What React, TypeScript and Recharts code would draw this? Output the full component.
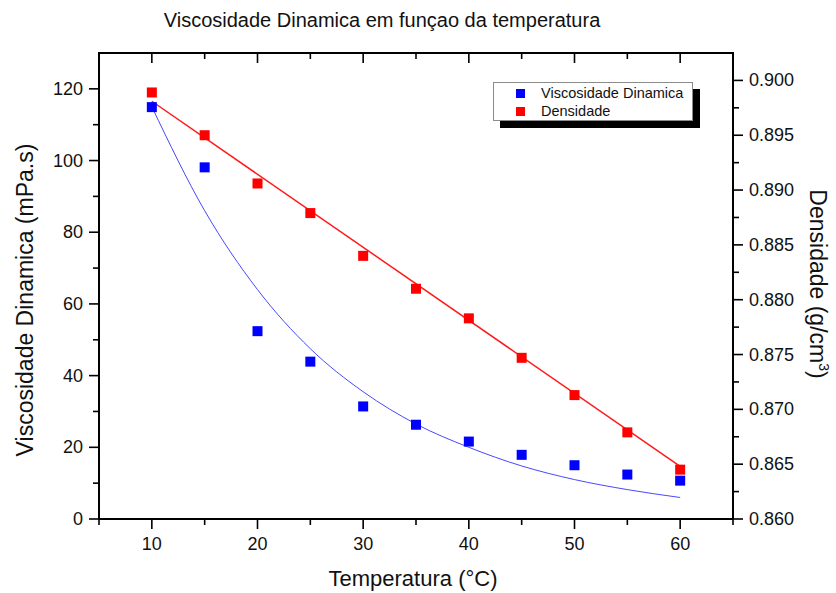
import React from "react";
import { ComposedChart, XAxis, YAxis, Scatter, Line, Legend, Label } from "recharts";

const FONT = '"Liberation Sans", Arial, sans-serif';

// measured points
const temperatures = [10, 15, 20, 25, 30, 35, 40, 45, 50, 55, 60];
const viscosity = [114.9, 98.1, 52.4, 43.9, 31.4, 26.3, 21.6, 17.9, 15.0, 12.4, 10.7];
const density = [0.8989, 0.895, 0.8906, 0.8879, 0.884, 0.881, 0.8783, 0.8747, 0.8713, 0.8679, 0.8645];

// fitted curves
const viscosityFitT = [10, 15, 20, 25, 30, 35, 40, 45, 50, 55, 60];
const viscosityFit = [115, 86, 64, 47.5, 35.5, 26.5, 20, 14.8, 11, 8.2, 6];
const densityFitT = [10, 60];
const densityFit = [0.8981, 0.8648];

// ticks (all) and the ones that carry a label
const xTicks = [5, 10, 15, 20, 25, 30, 35, 40, 45, 50, 55, 60, 65];
const xLabels = [10, 20, 30, 40, 50, 60];
const leftTicks = [0, 10, 20, 30, 40, 50, 60, 70, 80, 90, 100, 110, 120];
const leftLabels = [0, 20, 40, 60, 80, 100, 120];
const rightTicks = [
  0.86, 0.8625, 0.865, 0.8675, 0.87, 0.8725, 0.875, 0.8775, 0.88, 0.8825, 0.885,
  0.8875, 0.89, 0.8925, 0.895, 0.8975, 0.9,
];
const rightLabels = [0.86, 0.865, 0.87, 0.875, 0.88, 0.885, 0.89, 0.895, 0.9];
const X_DOMAIN: [number, number] = [5, 65];

const viscPoints = temperatures.map((t, i) => ({ t, v: viscosity[i] }));
const densPoints = temperatures.map((t, i) => ({ t, d: density[i] }));
const viscFitPoints = viscosityFitT.map((t, i) => ({ t, v: viscosityFit[i] }));
const densFitPoints = densityFitT.map((t, i) => ({ t, d: densityFit[i] }));

// chart geometry
const W = 836;
const H = 593;
const margin = { top: 53, right: 13, bottom: 14, left: 0 };
const X_AXIS_H = 60;
const LEFT_W = 99;
const RIGHT_W = 90;
const PLOT_LEFT = margin.left + LEFT_W;
const PLOT_W = W - margin.left - margin.right - LEFT_W - RIGHT_W;

type Side = "left" | "right" | "bottom";

function makeTick(side: Side, labels: number[], fmt: (v: number) => string) {
  return (props: any) => {
    const { x, y, payload } = props;
    const v = payload.value;
    const major = labels.some((l) => Math.abs(l - v) < 1e-9);
    const len = major ? 10 : 6;
    let line;
    let label = null;
    if (side === "left") {
      line = <line x1={x - len} y1={y} x2={x} y2={y} />;
      if (major)
        label = (
          <text x={x - 16} y={y + 6} textAnchor="end">
            {fmt(v)}
          </text>
        );
    } else if (side === "right") {
      line = <line x1={x} y1={y} x2={x + len} y2={y} />;
      if (major)
        label = (
          <text x={x + 16} y={y + 6} textAnchor="start">
            {fmt(v)}
          </text>
        );
    } else {
      line = <line x1={x} y1={y} x2={x} y2={y + len} />;
      if (major)
        label = (
          <text x={x} y={y + 31} textAnchor="middle">
            {fmt(v)}
          </text>
        );
    }
    return (
      <g stroke="#000" strokeWidth={1.6}>
        {line}
        {label && (
          <g stroke="none" fill="#111" fontSize={18} fontFamily={FONT}>
            {label}
          </g>
        )}
      </g>
    );
  };
}

// top border of the frame with inward ticks (same x range as the bottom axis)
const TopFrame = () => {
  const top = margin.top;
  const px = (t: number) => PLOT_LEFT + ((t - X_DOMAIN[0]) / (X_DOMAIN[1] - X_DOMAIN[0])) * PLOT_W;
  return (
    <svg
      width={W}
      height={H}
      style={{ position: "absolute", left: 0, top: 0, pointerEvents: "none", zIndex: 5 }}
    >
      <line x1={PLOT_LEFT - 1} y1={top} x2={PLOT_LEFT + PLOT_W + 1} y2={top} stroke="#000" strokeWidth={2} />
      {xTicks.map((t) => (
        <line
          key={t}
          x1={px(t)}
          y1={top}
          x2={px(t)}
          y2={top + (xLabels.includes(t) ? 10 : 6)}
          stroke="#000"
          strokeWidth={1.6}
        />
      ))}
    </svg>
  );
};

const square = (color: string) => (props: any) =>
  <rect x={props.cx - 5} y={props.cy - 5} width={10} height={10} fill={color} />;

const LegendBox = () => (
  <div
    style={{
      position: "relative",
      width: 200,
      height: 39,
      boxSizing: "border-box",
      border: "1px solid #8c8c8c",
      background: "#fff",
      boxShadow: "7px 7px 0 #000",
      fontFamily: FONT,
      fontSize: 14.5,
      color: "#111",
    }}
  >
    {[
      { name: "Viscosidade Dinamica", color: "#0000ff", top: 1 },
      { name: "Densidade", color: "#ff0000", top: 19 },
    ].map((r) => (
      <div key={r.name} style={{ position: "absolute", left: 0, top: r.top, height: 18, lineHeight: "18px", whiteSpace: "nowrap" }}>
        <span style={{ position: "absolute", left: 22, top: 5, width: 9, height: 9, background: r.color }} />
        <span style={{ position: "absolute", left: 47, top: 0 }}>{r.name}</span>
      </div>
    ))}
  </div>
);

export default function App() {
  return (
    <div style={{ position: "absolute", left: 0, top: 0, width: W, height: H, background: "#fff" }}>
      <ComposedChart width={W} height={H} margin={margin}>
        <XAxis
          xAxisId="bottomAxis"
          dataKey="t"
          type="number"
          domain={X_DOMAIN}
          allowDataOverflow
          ticks={xTicks}
          interval={0}
          height={X_AXIS_H}
          tickSize={0}
          tickMargin={0}
          tickLine={false}
          axisLine={{ stroke: "#000", strokeWidth: 2 }}
          tick={makeTick("bottom", xLabels, (v) => String(v))}
        >
          <Label
            content={() => (
              <text x={413} y={586} textAnchor="middle" fontSize={22} fontFamily={FONT} fill="#111">
                Temperatura (°C)
              </text>
            )}
          />
        </XAxis>
        <YAxis
          yAxisId="l"
          orientation="left"
          type="number"
          domain={[0, 130]}
          allowDataOverflow
          ticks={leftTicks}
          interval={0}
          width={LEFT_W}
          tickSize={0}
          tickMargin={0}
          tickLine={false}
          axisLine={{ stroke: "#000", strokeWidth: 2 }}
          tick={makeTick("left", leftLabels, (v) => String(v))}
        >
          <Label
            content={() => (
              <text
                x={33}
                y={300}
                transform="rotate(-90 33 300)"
                textAnchor="middle"
                fontSize={23}
                fontFamily={FONT}
                fill="#111"
              >
                Viscosidade Dinamica (mPa.s)
              </text>
            )}
          />
        </YAxis>
        <YAxis
          yAxisId="r"
          orientation="right"
          type="number"
          domain={[0.86, 0.9025]}
          allowDataOverflow
          ticks={rightTicks}
          interval={0}
          width={RIGHT_W}
          tickSize={0}
          tickMargin={0}
          tickLine={false}
          axisLine={{ stroke: "#000", strokeWidth: 2 }}
          tick={makeTick("right", rightLabels, (v) => v.toFixed(3))}
        >
          <Label
            content={() => (
              <text
                x={810}
                y={284}
                transform="rotate(90 810 284)"
                textAnchor="middle"
                fontSize={23}
                fontFamily={FONT}
                fill="#111"
              >
                Densidade (g/cm
                <tspan dy={-9} fontSize={14}>
                  3
                </tspan>
                <tspan dy={9}>)</tspan>
              </text>
            )}
          />
          <Label
            content={() => (
              <text x={382} y={27} textAnchor="middle" fontSize={20} fontFamily={FONT} fill="#111">
                Viscosidade Dinamica em funçao da temperatura
              </text>
            )}
          />
        </YAxis>
        <Legend
          layout="horizontal"
          verticalAlign="middle"
          align="center"
          content={() => <LegendBox />}
          wrapperStyle={{ position: "absolute", left: 493, top: 82, width: 200, height: 39 }}
        />
        <Line
          data={viscFitPoints}
          dataKey="v"
          xAxisId="bottomAxis"
          yAxisId="l"
          type="monotone"
          stroke="#4848ff"
          strokeWidth={1}
          dot={false}
          activeDot={false}
          isAnimationActive={false}
        />
        <Line
          data={densFitPoints}
          dataKey="d"
          xAxisId="bottomAxis"
          yAxisId="r"
          type="linear"
          stroke="#ff1a1a"
          strokeWidth={1.5}
          dot={false}
          activeDot={false}
          isAnimationActive={false}
        />
        <Scatter
          data={viscPoints}
          dataKey="v"
          xAxisId="bottomAxis"
          yAxisId="l"
          shape={square("#0000ff")}
          isAnimationActive={false}
        />
        <Scatter
          data={densPoints}
          dataKey="d"
          xAxisId="bottomAxis"
          yAxisId="r"
          shape={square("#ff0000")}
          isAnimationActive={false}
        />
      </ComposedChart>
      <TopFrame />
    </div>
  );
}
